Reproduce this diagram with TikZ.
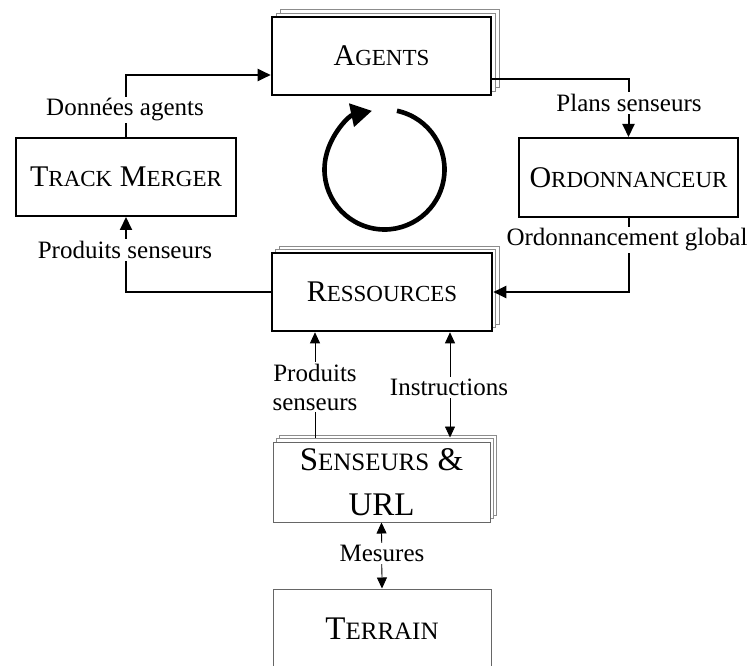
\documentclass[tikz,border=0pt]{standalone}
\usepackage{fontspec}
\setmainfont{Liberation Serif}
\usetikzlibrary{arrows.meta,shadows}
\newcommand\SCa[2]{{\fontsize{30}{34}\selectfont #1}{\fontsize{23}{26}\selectfont #2}}
\newcommand\SCc[2]{{\fontsize{33}{45}\selectfont #1}{\fontsize{25}{45}\selectfont #2}}
\tikzset{
  box/.style={draw, fill=white, line width=2pt, inner sep=0pt, align=center,
    font=\fontsize{30}{34}\selectfont},
  bigbox/.style={box, line width=2.6pt},
  pale/.style={box, draw=black!60, line width=1pt, font=\fontsize{33}{45}\selectfont},
  stack/.style 2 args={
    general shadow={shadow scale=1, shadow xshift=#2, shadow yshift=#2, draw=black!45, line width=0.9pt, fill=white},
    general shadow={shadow scale=1, shadow xshift=#1, shadow yshift=#1, draw=black!45, line width=0.9pt, fill=white}},
  conn/.style={line width=2pt, -{Triangle[length=13pt,width=12pt]}},
  thinconn/.style={line width=0.8pt, >={Triangle[length=11pt,width=10pt]}},
  lab/.style={fill=white, inner sep=2pt, font=\fontsize{25}{29}\selectfont, align=center},
}
\begin{document}
\begin{tikzpicture}[x=1pt,y=1pt]
\useasboundingbox (0,0) rectangle (754,665);
\fill[white] (0,0) rectangle (754,665);
\begin{scope}
\clip (0,0) rectangle (754,665);
% boxes
\node[bigbox, stack={4pt}{8pt}, minimum width=219pt, minimum height=78pt] (agents) at (381.5,609) {\SCa{A}{GENTS}};
\node[box, minimum width=220pt, minimum height=78pt] (tm) at (126,488) {\SCa{T}{RACK} \SCa{M}{ERGER}};
\node[box, minimum width=219pt, minimum height=79pt] (ord) at (628.5,487.5) {\SCa{O}{RDONNANCEUR}};
\node[bigbox, stack={3.5pt}{7pt}, minimum width=220pt, minimum height=78pt] (res) at (382,373) {\SCa{R}{ESSOURCES}};
\node[pale, stack={3.5pt}{6.5pt}, minimum width=217pt, minimum height=80pt] (sen) at (381.5,183) {\SCc{S}{ENSEURS} \SCc{\&}{}\\URL};
\node[pale, minimum width=218pt, minimum height=79pt] (ter) at (382,36.5) {\SCc{T}{ERRAIN}};
% main loop connectors
\draw[conn] (tm.north) |- ([yshift=-19pt]agents.west);
\draw[conn] ([yshift=-23pt]agents.east) -| (ord.north);
\draw[conn] (ord.south) |- (res.east);
\draw[conn] (res.west) -| (tm.south);
% cycle arrow
\coordinate (cc) at (384.5,495.5);
\draw[line width=4.6pt, -{Triangle[length=21pt,width=23pt]}] ([shift={(78:60)}]cc) arc[start angle=78, end angle=-258, radius=60];
% lower connectors
\draw[thinconn, ->] ([xshift=-66.5pt,yshift=4pt]sen.north) -- ([xshift=-67pt]res.south);
\draw[thinconn, <->] ([xshift=68pt]res.south) -- ([xshift=68.5pt,yshift=4pt]sen.north);
\draw[thinconn, <->] (sen.south) -- (ter.north);
% labels
\node[lab] (ldon) at (125,555) {Données agents};
\node[lab] (lplan) at (629,562) {Plans senseurs};
\node[lab] (lord) at (627,425) {Ordonnancement global};
\node[lab] (lprod) at (125,415) {Produits senseurs};
\node[lab] (lprod2) at (315,278) {Produits\\senseurs};
\node[lab] (linst) at (449,277.5) {Instructions};
\node[lab] (lmes) at (382,111.5) {Mesures};
\end{scope}
\end{tikzpicture}
\end{document}
